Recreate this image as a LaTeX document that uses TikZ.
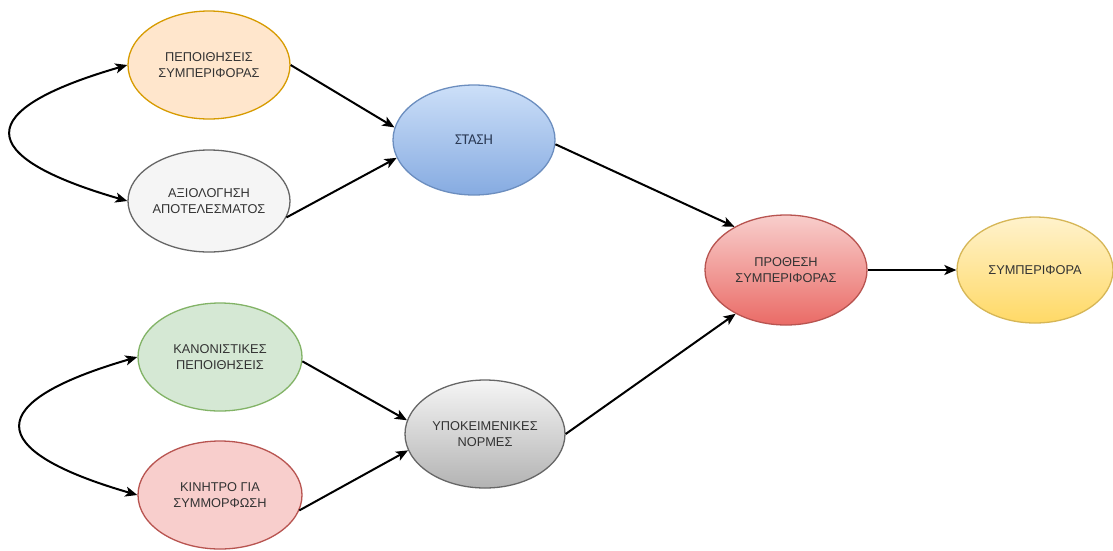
\documentclass[tikz,border=0pt]{standalone}
\usepackage{fontspec}
\setmainfont{Liberation Sans}
\newfontfamily\calibrilike{Carlito}
\usetikzlibrary{shapes.geometric,arrows.meta}

\definecolor{txt}{HTML}{333333}
\definecolor{orangefill}{HTML}{FFE6CC}
\definecolor{orangeline}{HTML}{D79B00}
\definecolor{greyfill}{HTML}{F5F5F5}
\definecolor{greyline}{HTML}{666666}
\definecolor{greydark}{HTML}{B3B3B3}
\definecolor{bluetop}{HTML}{CCDFF8}
\definecolor{bluebottom}{HTML}{86ABE1}
\definecolor{blueline}{HTML}{6C8EBF}
\definecolor{bluetext}{HTML}{2B3A55}
\definecolor{greenfill}{HTML}{D5E8D4}
\definecolor{greenline}{HTML}{82B366}
\definecolor{redfill}{HTML}{F8CECC}
\definecolor{redline}{HTML}{B85450}
\definecolor{reddark}{HTML}{EA6B66}
\definecolor{yellowtop}{HTML}{FFF2CC}
\definecolor{yellowbottom}{HTML}{FFD966}
\definecolor{yellowline}{HTML}{D6B656}

\tikzset{
  oval/.style={ellipse, draw, line width=1.3pt, inner sep=0pt,
    minimum width=162pt, minimum height=108pt, align=center,
    text=txt, font=\fontsize{12.8}{16}\selectfont},
  link/.style={line width=2pt, draw=black, -{Stealth[length=12pt,width=10pt,inset=3pt]}},
  twoway/.style={line width=2pt, draw=black,
    {Stealth[length=12pt,width=10pt,inset=3pt]}-{Stealth[length=12pt,width=10pt,inset=3pt]}}
}

\begin{document}
\begin{tikzpicture}[x=1pt,y=-1pt]
\useasboundingbox[fill=white] (0,0) rectangle (1113,550);

% attitude branch
\node[oval, fill=orangefill, draw=orangeline] (beliefs) at (209,65)
  {ΠΕΠΟΙΘΗΣΕΙΣ\\ΣΥΜΠΕΡΙΦΟΡΑΣ};
\node[oval, fill=greyfill, draw=greyline, minimum height=102pt] (evaluation) at (209,201)
  {ΑΞΙΟΛΟΓΗΣΗ\\ΑΠΟΤΕΛΕΣΜΑΤΟΣ};
\node[oval, top color=bluetop, bottom color=bluebottom, draw=blueline,
  minimum height=110pt, font=\calibrilike\fontsize{15}{18}\selectfont, text=bluetext]
  (attitude) at (474,140) {ΣΤΑΣΗ};

% subjective norm branch
\node[oval, fill=greenfill, draw=greenline, minimum width=164pt] (normbeliefs) at (220,357)
  {ΚΑΝΟΝΙΣΤΙΚΕΣ\\ΠΕΠΟΙΘΗΣΕΙΣ};
\node[oval, fill=redfill, draw=redline, minimum width=164pt] (motivation) at (220,495)
  {ΚΙΝΗΤΡΟ ΓΙΑ\\ΣΥΜΜΟΡΦΩΣΗ};
\node[oval, top color=greyfill, bottom color=greydark, draw=greyline,
  minimum width=160pt] (subjnorms) at (485,434)
  {ΥΠΟΚΕΙΜΕΝΙΚΕΣ\\ΝΟΡΜΕΣ};

% intention and behaviour
\node[oval, top color=redfill, bottom color=reddark, draw=redline,
  minimum height=110pt] (intention) at (786,270)
  {ΠΡΟΘΕΣΗ\\ΣΥΜΠΕΡΙΦΟΡΑΣ};
\node[oval, top color=yellowtop, bottom color=yellowbottom, draw=yellowline,
  minimum width=156pt, minimum height=106pt] (behaviour) at (1035,270)
  {ΣΥΜΠΕΡΙΦΟΡΑ};

% two-way links between the paired beliefs
\draw[twoway] (beliefs.west) .. controls +(-155,45) and +(-155,-45) .. (evaluation.west);
\draw[twoway] (normbeliefs.west) .. controls +(-155,45) and +(-155,-45) .. (motivation.west);

% causal links
\draw[link] (beliefs.east) -- (attitude.171);
\draw[link] (evaluation.-12) -- (attitude.193);
\draw[link] (normbeliefs.-3) -- (subjnorms.170);
\draw[link] (motivation.-11) -- (subjnorms.192);
\draw[link] (attitude.-3) -- (intention.140);
\draw[link] (subjnorms.east) -- (intention.221);
\draw[link] (intention.east) -- (behaviour.west);
\end{tikzpicture}
\end{document}
